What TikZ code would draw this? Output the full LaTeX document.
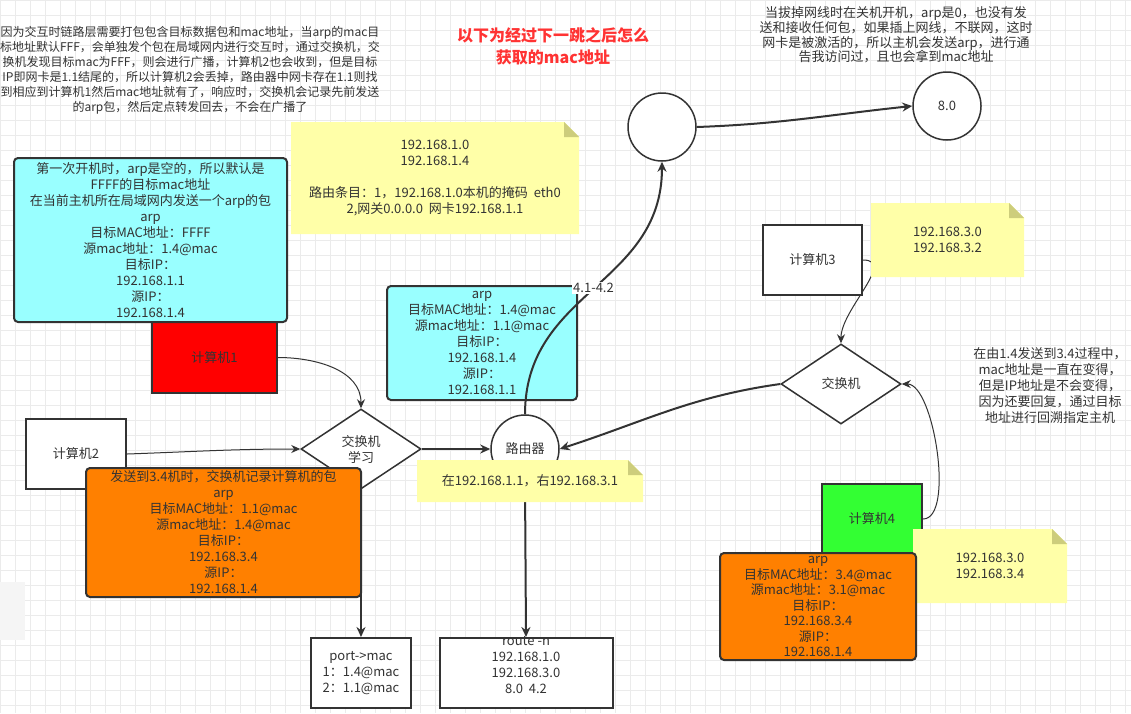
\documentclass[tikz,border=0pt]{standalone}
\usepackage{fontspec}
\setmainfont{Noto Sans CJK SC}
\usetikzlibrary{shapes.geometric,arrows.meta,calc}
\pgfdeclarelayer{gridlayer}
\pgfdeclarelayer{bg}
\pgfsetlayers{gridlayer,bg,main}
\definecolor{txt}{HTML}{333333}
\definecolor{gridc}{HTML}{EBEBEB}
\definecolor{cyanc}{HTML}{99FFFF}
\definecolor{orangec}{HTML}{FF8000}
\definecolor{redc}{HTML}{FF0000}
\definecolor{greenc}{HTML}{33FF33}
\definecolor{notec}{HTML}{FFFFA8}
\definecolor{foldc}{HTML}{CDCD7C}
\definecolor{titlec}{HTML}{FF3333}
\newcommand\mknote[6]{%
  \fill[notec] (#2,#3) -- ({#4-15},#3) -- (#4,{#3+15}) -- (#4,#5) -- (#2,#5) -- cycle;
  \fill[foldc] ({#4-15},#3) -- ({#4-15},{#3+15}) -- (#4,{#3+15}) -- cycle;
  \node[tx13] (#1) at ({(#2+#4)/2},{(#3+#5)/2}) {#6};}
\begin{document}
\begin{tikzpicture}[x=1pt,y=-1pt,
  every node/.style={text=txt, inner sep=0pt, align=center},
  tx12/.style={font=\fontsize{12}{15}\selectfont},
  tx13/.style={font=\fontsize{13}{16}\selectfont},
  box/.style={tx13, draw=txt, line width=2pt, fill=white, rectangle},
  rbox/.style={box, rounded corners=4pt},
  circ/.style={tx13, draw=txt, line width=1.5pt, fill=white, circle, minimum size=68pt},
  dia/.style={tx13, draw=txt, line width=1.5pt, fill=white, diamond, aspect=1.5, minimum width=120pt, minimum height=80pt},
  conn/.style={draw=txt, line width=2pt, -{Stealth[length=10pt,width=9pt]}},
  tconn/.style={draw=txt, line width=1pt, -{Stealth[length=9pt,width=8pt]}}]
\useasboundingbox (0,0) rectangle (1131,713);
\begin{pgfonlayer}{gridlayer}
\fill[white] (0,0) rectangle (1131,713);
\foreach \i in {0,15,...,1130} \draw[gridc, line width=0.7pt] (\i,0) -- (\i,713);
\foreach \j in {0,15,...,712} \draw[gridc, line width=0.7pt] (0,\j) -- (1131,\j);
\fill[black!4] (0,582) rectangle (25,640);
\end{pgfonlayer}

% texts
\node[tx12] (tltext) at (190,70) {因为交互时链路层需要打包包含目标数据包和mac地址，当arp的mac目\\标地址默认FFF，会单独发个包在局域网内进行交互时，通过交换机，交\\换机发现目标mac为FFF，则会进行广播，计算机2也会收到，但是目标\\IP即网卡是1.1结尾的，所以计算机2会丢掉，路由器中网卡存在1.1则找\\到相应到计算机1然后mac地址就有了，响应时，交换机会记录先前发送\\的arp包，然后定点转发回去，不会在广播了};
\node[font=\fontsize{16}{22}\selectfont\bfseries, text=titlec] (title) at (553,46) {以下为经过下一跳之后怎么\\获取的mac地址};
\node[font=\fontsize{13}{14.7}\selectfont] (trtext) at (896,35) {当拔掉网线时在关机开机，arp是0，也没有发\\送和接收任何包，如果插上网线，不联网，这时\\网卡是被激活的，所以主机会发送arp，进行通\\告我访问过，且也会拿到mac地址};
\node[tx13] (rtext) at (1050,386) {在由1.4发送到3.4过程中，\\mac地址是一直在变得，\\但是IP地址是不会变得，\\因为还要回复，通过目标\\地址进行回溯指定主机};

% top circles
\node[circ] (circ1) at (662,127) {};
\node[circ] (c80) at (947,106) {8.0};
\draw[conn] (circ1.east) to[out=2, in=186] (c80.west);

% note 1
\mknote{note1}{291}{122}{579}{234}{192.168.1.0\\192.168.1.4\\\mbox{}\\路由条目：1，192.168.1.0本机的掩码\ \ eth0\\2,网关0.0.0.0\ \ 网卡192.168.1.1}

% left side
\node[box, fill=redc, minimum width=125pt, minimum height=71pt] (c1) at (214.5,357.5) {计算机1};
\node[rbox, fill=cyanc, minimum width=273pt, minimum height=164pt] (cyanL) at (150.5,240) {第一次开机时，arp是空的，所以默认是\\FFFF的目标mac地址\\在当前主机所在局域网内发送一个arp的包\\arp\\目标MAC地址：FFFF\\源mac地址：1.4@mac\\目标IP：\\192.168.1.1\\源IP：\\192.168.1.4};
\node[box, minimum width=100pt, minimum height=70pt] (c2) at (76,454) {计算机2};
\node[dia] (sw1) at (361,449) {交换机\\学习};
\node[box, minimum width=100pt, minimum height=70pt] (port) at (361,673) {port->mac\\1：1.4@mac\\2：1.1@mac};
\begin{pgfonlayer}{bg}
\draw[conn] (sw1.south) -- (port.north);
\end{pgfonlayer}
\node[rbox, fill=orangec, minimum width=275pt, minimum height=129pt] (orangeL) at (223.5,532.5) {发送到3.4机时，交换机记录计算机的包\\arp\\目标MAC地址：1.1@mac\\源mac地址：1.4@mac\\目标IP：\\192.168.3.4\\源IP：\\192.168.1.4};
\draw[tconn] (c1.east) to[out=0, in=90] (sw1.north);
\draw[tconn] (c2.east) to[out=2, in=180] (sw1.west);

% router
\node[circ] (router) at (525,449) {路由器};
\draw[conn] (sw1.east) -- (router.west);
\node[box, minimum width=173pt, minimum height=70pt] (route) at (526,673) {};
\node[tx13] (routetxt) at (526,665) {route -n\\192.168.1.0\\192.168.3.0\\8.0\ \ 4.2};
\begin{pgfonlayer}{bg}
\draw[conn] (router.south) -- (route.north);
\end{pgfonlayer}
\mknote{note2}{417}{460}{643}{502}{在192.168.1.1，右192.168.3.1}
\node[rbox, fill=cyanc, minimum width=190pt, minimum height=114pt] (cyanM) at (482,343) {arp\\目标MAC地址：1.4@mac\\源mac地址：1.1@mac\\目标IP：\\192.168.1.4\\源IP：\\192.168.1.1};
\draw[conn] (router.north) to[out=90, in=-90, looseness=1.1] node[pos=0.5, fill=white, tx13, inner sep=1pt] (lbl) {4.1-4.2} (circ1.south);

% right side
\node[box, minimum width=99pt, minimum height=70pt] (c3) at (812.5,260) {计算机3};
\node[dia] (rsw) at (841,384) {交换机};
\begin{pgfonlayer}{bg}
\draw[tconn] (c3.east) to[out=0, in=90] (rsw.north);
\end{pgfonlayer}
\mknote{note3}{871}{203}{1024}{277}{192.168.3.0\\192.168.3.2}
\draw[conn] (rsw.west) to[out=188, in=18] (router.east);
\node[box, fill=greenc, minimum width=100pt, minimum height=70pt] (c4) at (872,519) {计算机4};
\draw[tconn] (c4.east) to[out=0, in=0, looseness=0.6] (rsw.east);
\mknote{note4}{913}{529}{1067}{603}{192.168.3.0\\192.168.3.4}
\node[rbox, fill=orangec, minimum width=196pt, minimum height=107pt, font=\fontsize{13}{15.5}\selectfont] (orangeR) at (818,606.5) {arp\\目标MAC地址：3.4@mac\\源mac地址：3.1@mac\\目标IP：\\192.168.3.4\\源IP：\\192.168.1.4};
\end{tikzpicture}
\end{document}
